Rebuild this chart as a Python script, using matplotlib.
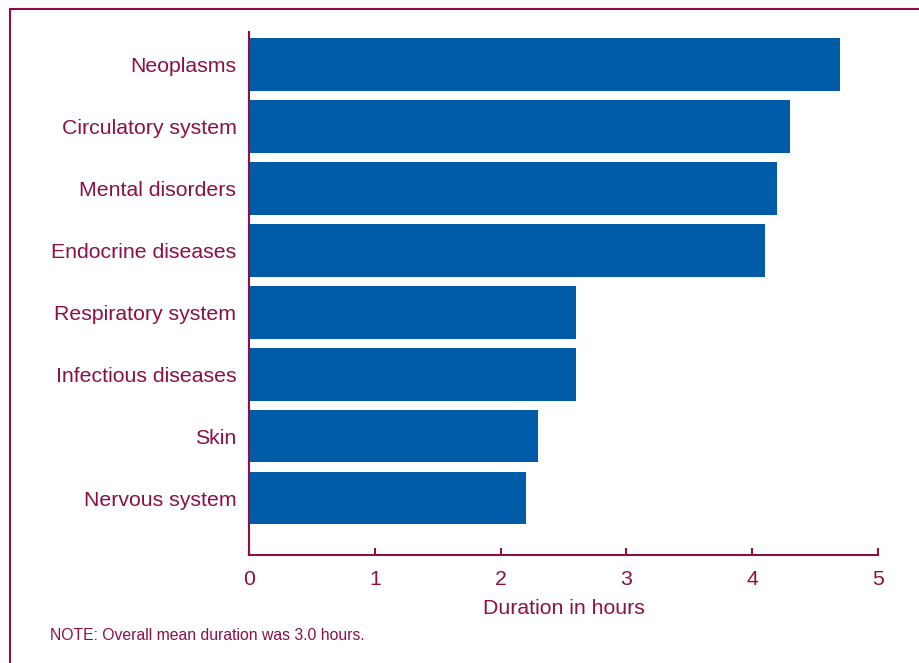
import matplotlib
matplotlib.use("Agg")
import matplotlib.pyplot as plt
from matplotlib.patches import Rectangle

categories = ["Neoplasms", "Circulatory system", "Mental disorders", "Endocrine diseases",
              "Respiratory system", "Infectious diseases", "Skin", "Nervous system"]
values = [4.7, 4.3, 4.2, 4.1, 2.6, 2.6, 2.3, 2.2]
xticks = [0, 1, 2, 3, 4, 5]

maroon = "#8C0F45"
blue = "#005CA9"
plt.rcParams["font.family"] = ["Liberation Sans", "DejaVu Sans"]
fs = 15.3

fig = plt.figure(figsize=(9.2, 6.63), dpi=100)
ax = fig.add_axes([249/920, 1-555/663, (878-249)/920, (555-32)/663])

pos = list(range(len(categories)))
ax.barh(pos, values, height=0.85, color=blue, zorder=2)
ax.set_ylim(len(categories) - 1 + 0.92, -0.53)
ax.set_xlim(0, 5)
ax.set_yticks(pos)
ax.set_yticklabels(categories, fontsize=fs, color=maroon)
ax.tick_params(axis="y", length=0, pad=9)
ax.set_xticks(xticks)
ax.set_xticklabels([str(t) for t in xticks], fontsize=fs, color=maroon)
ax.tick_params(axis="x", direction="in", length=5, width=1.5, color=maroon, pad=11)
for s in ["top", "right"]:
    ax.spines[s].set_visible(False)
for s in ["left", "bottom"]:
    ax.spines[s].set_color(maroon)
    ax.spines[s].set_linewidth(1.5)
ax.set_xlabel("Duration in hours", fontsize=fs, color=maroon, labelpad=7)

fig.text(50/920, 1-636/663, "NOTE: Overall mean duration was 3.0 hours.",
         fontsize=11.3, color=maroon, va="center", ha="left")

fig.patches.append(Rectangle((10/920, -0.1), 1.2, 1-9/663 + 0.1, transform=fig.transFigure,
                             fill=False, edgecolor=maroon, linewidth=1.5, clip_on=False))

fig.savefig("out.png", dpi=100)
